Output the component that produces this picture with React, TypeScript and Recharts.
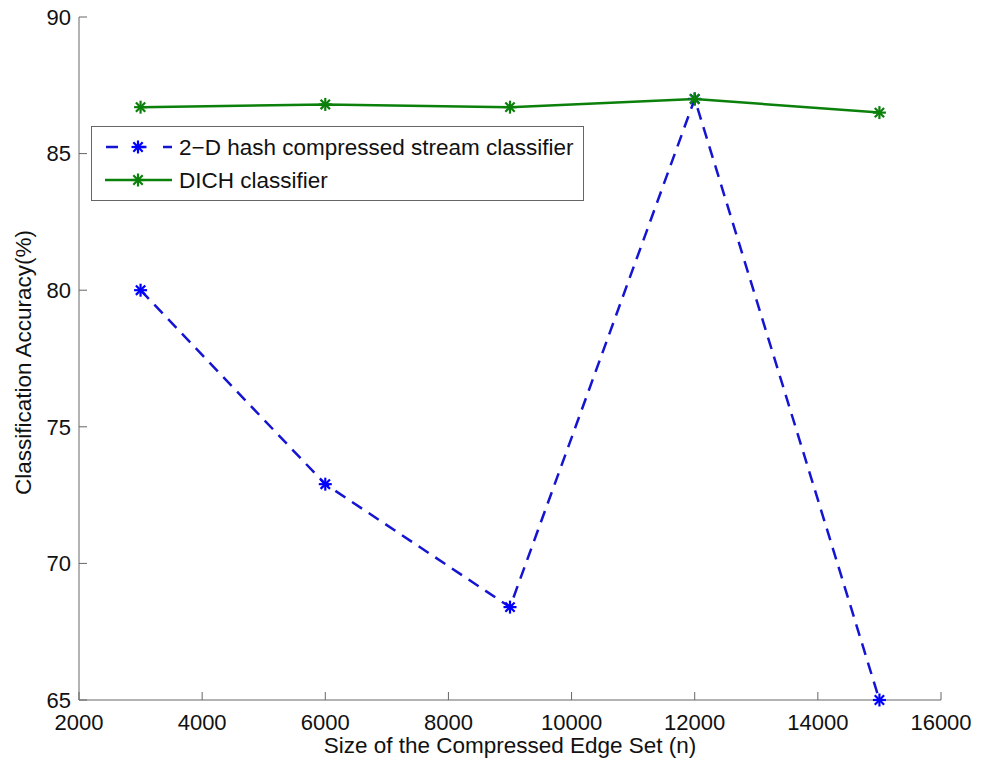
import React from 'react'
import { LineChart, Line, XAxis, YAxis, Legend } from 'recharts'

const edgeSetSizes = [3000, 6000, 9000, 12000, 15000]
const hashAccuracy = [80.0, 72.9, 68.4, 87.0, 65.0]
const dichAccuracy = [86.7, 86.8, 86.7, 87.0, 86.5]
const xTicks = [2000, 4000, 6000, 8000, 10000, 12000, 14000, 16000]
const yTicks = [65, 70, 75, 80, 85, 90]

const HASH_NAME = '2\u2212D hash compressed stream classifier'
const DICH_NAME = 'DICH classifier'

const BLUE = '#1414d2'
const BLUE_MARK = '#0000ff'
const GREEN = '#0b800b'
const AXIS = '#666'
const FONT = '"Liberation Sans", Arial, sans-serif'

const data = edgeSetSizes.map((n, i) => ({
  n,
  hash: hashAccuracy[i],
  dich: dichAccuracy[i],
}))

// MATLAB-style '*' marker: plus and cross overlaid
function Asterisk({ cx, cy, color, r = 6.5 }: { cx?: number; cy?: number; color: string; r?: number }) {
  if (cx == null || cy == null) return null
  const d = r * 0.72
  return (
    <g stroke={color} strokeWidth={2.2} strokeLinecap="butt">
      <line x1={cx - r} y1={cy} x2={cx + r} y2={cy} />
      <line x1={cx} y1={cy - r} x2={cx} y2={cy + r} />
      <line x1={cx - d} y1={cy - d} x2={cx + d} y2={cy + d} />
      <line x1={cx - d} y1={cy + d} x2={cx + d} y2={cy - d} />
    </g>
  )
}

function LegendBox() {
  return (
    <svg width={493} height={75} style={{ display: 'block' }}>
      <rect x={0.5} y={0.5} width={492} height={74} fill="#fff" stroke={AXIS} strokeWidth={1} />
      <line x1={14} y1={21} x2={81} y2={21} stroke={BLUE} strokeWidth={2.5} strokeDasharray="12 16.5" strokeDashoffset={-1} />
      <Asterisk cx={47} cy={21} color={BLUE_MARK} />
      <text x={88} y={29} fontSize={22.5} fill="#111" fontFamily={FONT}>{HASH_NAME}</text>
      <line x1={14} y1={54} x2={81} y2={54} stroke={GREEN} strokeWidth={2.5} />
      <Asterisk cx={47} cy={54} color={GREEN} />
      <text x={88} y={62} fontSize={22.5} fill="#111" fontFamily={FONT}>{DICH_NAME}</text>
    </svg>
  )
}

const tickStyle = { fontSize: 22, fill: '#111', fontFamily: FONT }

export default function App() {
  return (
    <div style={{ position: 'absolute', left: 0, top: 0, width: 981, height: 766, background: '#fff' }}>
      <LineChart
        width={981}
        height={766}
        data={data}
        margin={{ top: 17, right: 40, bottom: 36, left: 19 }}
      >
        <XAxis
          xAxisId="bottom"
          dataKey="n"
          type="number"
          domain={[2000, 16000]}
          ticks={xTicks}
          height={30}
          stroke={AXIS}
          tickSize={-8}
          tickMargin={22}
          tick={tickStyle}
          label={{
            value: 'Size of the Compressed Edge Set (n)',
            position: 'insideBottom',
            offset: -23,
            style: { fontSize: 22.5, fill: '#111', fontFamily: FONT },
          }}
        />
        <XAxis
          xAxisId="top"
          dataKey="n"
          type="number"
          orientation="top"
          domain={[2000, 16000]}
          ticks={xTicks}
          height={0}
          stroke={AXIS}
          tickSize={-8}
          tick={false}
        />
        <YAxis
          yAxisId="left"
          type="number"
          domain={[65, 90]}
          ticks={yTicks}
          width={60}
          stroke={AXIS}
          tickSize={-8}
          tickMargin={16}
          tick={tickStyle}
          label={{
            value: 'Classification Accuracy(%)',
            angle: -90,
            position: 'insideLeft',
            offset: 4,
            dy: 4,
            style: { fontSize: 22.5, fill: '#111', fontFamily: FONT, textAnchor: 'middle' },
          }}
        />
        <YAxis
          yAxisId="right"
          type="number"
          orientation="right"
          domain={[65, 90]}
          ticks={yTicks}
          width={0}
          stroke={AXIS}
          tickSize={-8}
          tick={false}
        />
        <Legend
          layout="horizontal"
          verticalAlign="middle"
          align="center"
          content={() => <LegendBox />}
          wrapperStyle={{ position: 'absolute', left: 91, top: 126, width: 493, height: 75 }}
        />
        <Line
          xAxisId="bottom"
          yAxisId="left"
          dataKey="hash"
          name={HASH_NAME}
          stroke={BLUE}
          strokeWidth={2.5}
          strokeDasharray="12 8"
          dot={(p: any) => <Asterisk key={`h${p.index}`} cx={p.cx} cy={p.cy} color={BLUE_MARK} />}
          activeDot={false}
          isAnimationActive={false}
        />
        <Line
          xAxisId="bottom"
          yAxisId="left"
          dataKey="dich"
          name={DICH_NAME}
          stroke={GREEN}
          strokeWidth={2.5}
          dot={(p: any) => <Asterisk key={`d${p.index}`} cx={p.cx} cy={p.cy} color={GREEN} />}
          activeDot={false}
          isAnimationActive={false}
        />
      </LineChart>
    </div>
  )
}
